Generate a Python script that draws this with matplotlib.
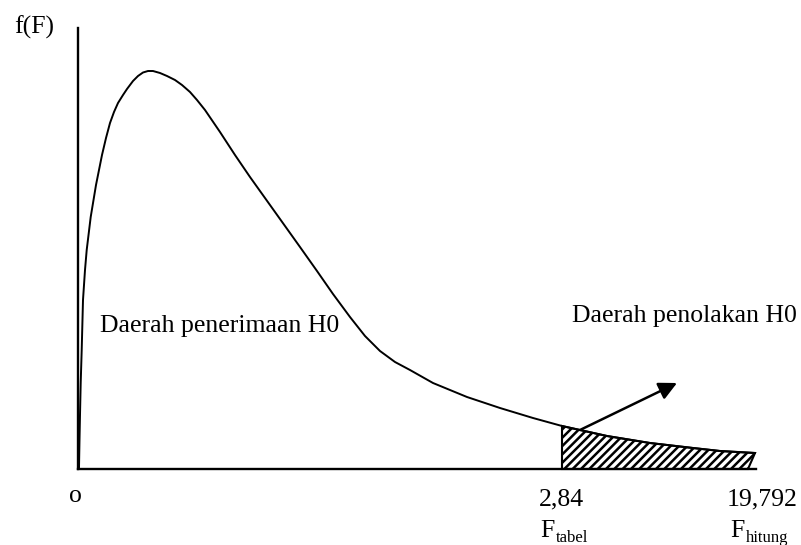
import matplotlib
matplotlib.use("Agg")
import matplotlib.pyplot as plt

plt.rcParams["font.family"] = ["Liberation Serif", "DejaVu Serif"]
plt.rcParams["hatch.linewidth"] = 1.8

# curve (schematic units, origin at the axes corner)
curve_x = [1, 1.5, 2, 2.7, 3.7, 5, 7, 8.7, 12.7, 18, 24, 28, 32, 36, 40, 45,
           49, 55, 60, 65, 70, 75, 82, 89, 97, 104, 112, 119, 127, 142, 157,
           172, 187, 202, 222, 239, 255, 272, 287, 302, 317, 332, 355, 389,
           422, 455, 484, 529, 572, 615, 642, 677]
curve_y = [1, 29, 54, 86, 119, 169, 199, 219, 252, 284, 314, 331, 346, 357,
           366, 374, 380, 388, 393, 396.5, 398, 398, 396, 393, 389, 384, 377,
           369, 359, 337, 314, 292, 271, 250, 222, 198, 175, 152, 133, 118,
           107, 99, 86, 72, 61, 51, 43, 33, 26, 21, 18, 16]

# rejection region: starts at F tabel, ends a bit slanted under F hitung
reject_start = 484
reject_end_base = 670

tick_values = ["o", "2,84", "19,792"]
tick_names = ["tabel", "hitung"]

fig = plt.figure(figsize=(8.01, 5.45), dpi=100)
ax = fig.add_axes([78 / 801, 76 / 545, 678 / 801, 441 / 545])
ax.set_xlim(0, 678)
ax.set_ylim(0, 441)
for side in ["top", "right"]:
    ax.spines[side].set_visible(False)
for side in ["left", "bottom"]:
    ax.spines[side].set_linewidth(1.7)
    ax.spines[side].set_color("black")
ax.set_xticks([])
ax.set_yticks([])

ax.plot(curve_x, curve_y, color="black", lw=1.4, clip_on=False,
        solid_joinstyle="round")

# hatched area
tail = [(x, y) for x, y in zip(curve_x, curve_y) if x >= reject_start]
poly_x = [p[0] for p in tail] + [reject_end_base, reject_start]
poly_y = [p[1] for p in tail] + [0, 0]
ax.fill(poly_x, poly_y, facecolor="white", edgecolor="black", hatch="////",
        lw=1.5, clip_on=False)

ax.annotate("", xy=(599, 86), xytext=(502, 39),
            arrowprops=dict(arrowstyle="-|>", color="black", lw=1.8,
                            mutation_scale=27, shrinkA=0, shrinkB=0))

fs = 18.5
ax.text(-44, 442, "f(F)", fontsize=fs, ha="center", va="center", clip_on=False)
ax.text(22, 137, "Daerah penerimaan H0", fontsize=fs, ha="left", va="baseline")
ax.text(494, 147, "Daerah penolakan H0", fontsize=fs, ha="left", va="baseline",
        clip_on=False)

ax.text(-3, -33, tick_values[0], fontsize=fs, ha="center", va="baseline",
        clip_on=False)
ax.text(461, -36, tick_values[1], fontsize=fs, ha="left", va="baseline",
        clip_on=False)
ax.text(649, -36, tick_values[2], fontsize=fs, ha="left", va="baseline",
        clip_on=False)
for fx, name in zip([462, 652], tick_names):
    ax.text(fx, -68, "F", fontsize=fs, ha="left", va="baseline", clip_on=False)
    ax.text(fx + 16, -73, name, fontsize=12, ha="left", va="baseline",
            clip_on=False)

fig.savefig("out.png", dpi=100)
